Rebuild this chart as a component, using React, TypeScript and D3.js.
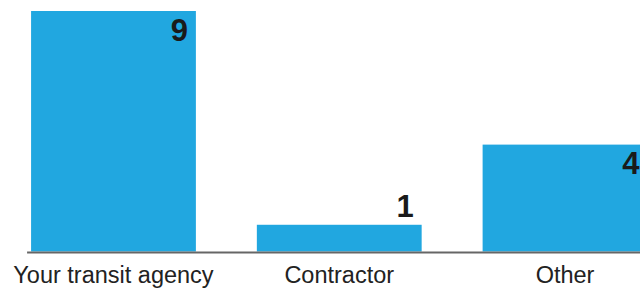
import { useEffect, useRef } from 'react';
import * as d3 from 'd3';

const categories = ['Your transit agency', 'Contractor', 'Other'];
const counts = [9, 1, 4];
const yTicks = [0, 9];

export default function App() {
  const svgRef = useRef<SVGSVGElement>(null);
  const width = 640;
  const height = 289;

  useEffect(() => {
    if (!svgRef.current) return;
    const svg = d3.select(svgRef.current);
    svg.selectAll('*').remove();

    const baseline = 251.5;
    const top = 11;

    // Scales
    const x = d3.scaleBand<string>()
      .domain(categories)
      .range([0.6, 677.9])
      .paddingInner(0.27)
      .paddingOuter(0.135);
    const y = d3.scaleLinear().domain([yTicks[0], yTicks[1]]).range([baseline, top]);

    const data = categories.map((c, i) => ({ c, v: counts[i] }));

    // Bars
    svg.append('g')
      .selectAll('rect')
      .data(data)
      .join('rect')
      .attr('x', d => x(d.c)!)
      .attr('y', d => y(d.v))
      .attr('width', x.bandwidth())
      .attr('height', d => y(0) - y(d.v))
      .attr('fill', '#21A7E0');

    // Baseline
    svg.append('line')
      .attr('x1', x(categories[0])! - 4).attr('x2', width)
      .attr('y1', baseline + 1).attr('y2', baseline + 1)
      .attr('stroke', '#666').attr('stroke-width', 2);

    // Value labels
    svg.append('g')
      .selectAll('text')
      .data(data)
      .join('text')
      .attr('x', d => x(d.c)! + x.bandwidth() - 8)
      .attr('y', d => (y(0) - y(d.v) < 40 ? y(d.v) - 8 : y(d.v) + 29.5))
      .attr('text-anchor', 'end')
      .attr('font-size', '31px').attr('font-weight', 'bold')
      .attr('font-family', 'Liberation Sans, Arial, sans-serif')
      .attr('fill', '#1a1a1a')
      .text(d => d.v);

    // Category labels
    svg.append('g')
      .selectAll('text')
      .data(data)
      .join('text')
      .attr('x', d => x(d.c)! + x.bandwidth() / 2)
      .attr('y', 283.3)
      .attr('text-anchor', 'middle')
      .attr('font-size', '23.5px')
      .attr('font-family', 'Liberation Sans, Arial, sans-serif')
      .attr('fill', '#222')
      .text(d => d.c);
  }, []);

  return (
    <svg
      ref={svgRef}
      width={width}
      height={height}
      style={{ position: 'absolute', left: 0, top: 0, background: '#fff' }}
    />
  );
}
